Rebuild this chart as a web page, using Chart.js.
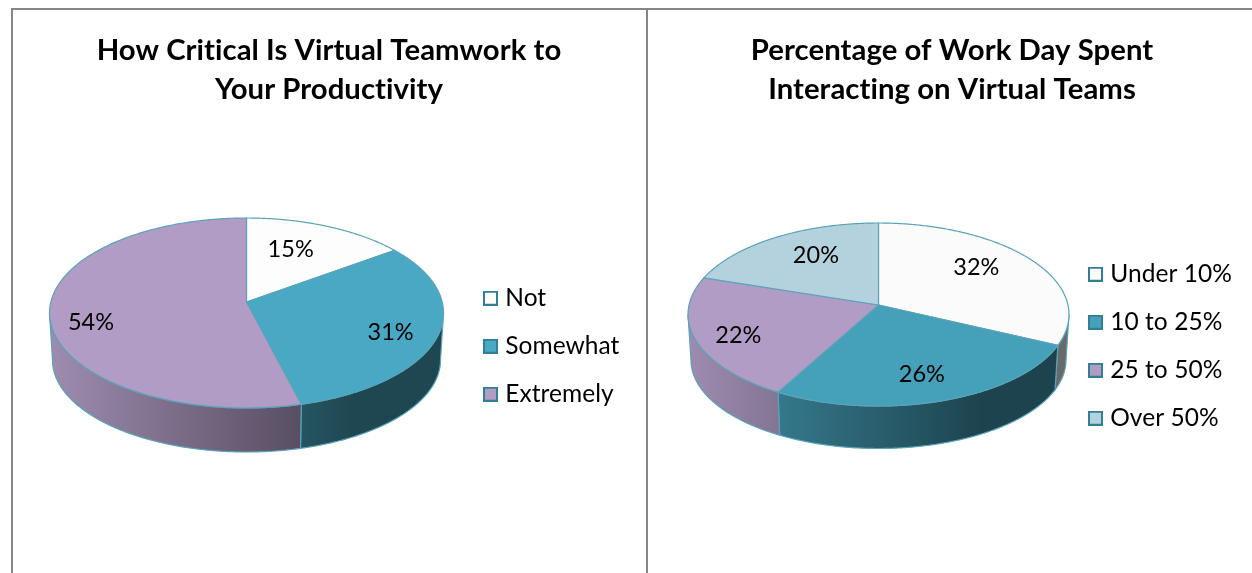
<!DOCTYPE html>
<html><head><meta charset="utf-8">
<style>
html,body{margin:0;padding:0;background:#fff;overflow:hidden}
#stage{position:relative;width:1252px;height:573px;overflow:hidden}
.rule{position:absolute;background:#868686}
.wrap{position:absolute;top:10px;height:563px}
</style>
<script src="https://cdn.jsdelivr.net/npm/chart.js@4"></script>
</head><body>
<div id="stage">
<div class="rule" style="left:11px;top:8px;width:1241px;height:2px"></div>
<div class="rule" style="left:11px;top:8px;width:2px;height:565px"></div>
<div class="rule" style="left:646px;top:8px;width:2px;height:565px"></div>
<div class="wrap" style="left:13px;width:632px"><canvas id="c1"></canvas></div>
<div class="wrap" style="left:652px;width:600px"><canvas id="c2"></canvas></div>
</div>
<script>
const FONT = "Lato, 'Noto Sans', sans-serif";

const title1 = ["How Critical Is Virtual Teamwork to", "Your Productivity"];
const categories1 = ["Not", "Somewhat", "Extremely"];
const values1 = [15, 31, 54];
const colors1 = ["#fdfdfd", "#49a9c4", "#b09cc4"];

const title2 = ["Percentage of Work Day Spent", "Interacting on Virtual Teams"];
const categories2 = ["Under 10%", "10 to 25%", "25 to 50%", "Over 50%"];
const values2 = [32, 26, 22, 20];
const colors2 = ["#fbfbfb", "#45a0b9", "#b09cc4", "#b3d2de"];

const EDGE = "#5aa3b8", BOX_EDGE = "#2f8097";
// wall shading: position across the pie -> brightness
const SHADE = [[0, .9], [.24, .75], [.64, .5], [.77, .42], [1, .42]];

function rgb(hex){ return [1,3,5].map(i => parseInt(hex.substr(i,2),16)); }
function boxImage(color){
  const s = document.createElement('canvas'); s.width = 15; s.height = 15;
  const c = s.getContext('2d');
  c.fillStyle = color; c.fillRect(0,0,15,15);
  c.strokeStyle = BOX_EDGE; c.lineWidth = 2; c.strokeRect(1,1,13,13);
  return s;
}

// Perspective view of a round disc: g holds the ellipse of the top face, the
// bottom face, and k the shift of the disc centre towards the far side.
function rim(g, a, r){
  const x = r*Math.cos(a), y = r*Math.sin(a), d = 1 - g.k*y;
  return [x*Math.sqrt(1-g.k*g.k)/d, (y-g.k)/d];
}
function topPt(g, p){ return [g.cx + g.rx*p[0], g.cy + g.ry*p[1]]; }
function botPt(g, p){ return [g.cx + g.rx2*p[0], g.cy2 + g.ry2*p[1]]; }

const pie3d = {
  id: 'pie3d',
  beforeDraw(chart){
    // a non-zero letter spacing keeps the "ti" pairs as separate letters, as in the reference
    chart.ctx.letterSpacing = '0.05px';
  },
  afterLayout(chart){
    const g = chart.options.plugins.pie3d, L = chart.legend;
    const h = L.height;
    L.left = g.legendX - L.options.labels.padding; L.top = g.legendY - L.options.labels.padding;
    L.right = L.left + L.width; L.bottom = L.top + h + 100;
  },
  beforeDatasetsDraw(chart){
    const g = chart.options.plugins.pie3d, ctx = chart.ctx, meta = chart.getDatasetMeta(0);
    const colors = chart.data.datasets[0].backgroundColor;
    meta.data.forEach((el, i) => {
      // side wall
      const pts = [];
      for (let a = el.startAngle; a <= el.endAngle + 1e-6; a += (el.endAngle-el.startAngle)/400){
        const p = rim(g, a, 1); if (p[1] >= 0) pts.push(p);
      }
      if (pts.length > 1){
        const grad = ctx.createLinearGradient(g.cx-g.rx, 0, g.cx+g.rx, 0), c = rgb(colors[i]);
        SHADE.forEach(([t,f]) => grad.addColorStop(t, `rgb(${c.map(v=>Math.round(v*f)).join(',')})`));
        ctx.beginPath();
        pts.forEach((p,n) => { const q = topPt(g,p); n ? ctx.lineTo(q[0],q[1]) : ctx.moveTo(q[0],q[1]); });
        pts.slice().reverse().forEach(p => { const q = botPt(g,p); ctx.lineTo(q[0],q[1]); });
        ctx.closePath();
        ctx.fillStyle = grad; ctx.fill();
        ctx.strokeStyle = EDGE; ctx.lineWidth = 1.2; ctx.stroke();
      }
      // top face of the slice
      el.draw = function(c){
        const apex = topPt(g, rim(g, 0, 0));
        c.save(); c.beginPath(); c.moveTo(apex[0], apex[1]);
        for (let n = 0; n <= 200; n++){
          const q = topPt(g, rim(g, el.startAngle + (el.endAngle-el.startAngle)*n/200, 1));
          c.lineTo(q[0], q[1]);
        }
        c.closePath();
        c.fillStyle = colors[i]; c.fill();
        c.strokeStyle = EDGE; c.lineWidth = 1.2; c.stroke();
        c.restore();
      };
    });
  },
  afterDatasetsDraw(chart){
    const g = chart.options.plugins.pie3d, ctx = chart.ctx, meta = chart.getDatasetMeta(0);
    ctx.save();
    ctx.font = `${g.labelSize}px ${FONT}`; ctx.fillStyle = '#000';
    ctx.textAlign = 'center'; ctx.textBaseline = 'middle';
    meta.data.forEach((el, i) => {
      const q = topPt(g, rim(g, (el.startAngle+el.endAngle)/2, .6));
      ctx.fillText(chart.data.datasets[0].data[i] + '%', q[0]+g.nudge[i][0], q[1]+g.nudge[i][1]);
    });
    ctx.restore();
  }
};

function make(id, title, cats, vals, cols, geo){
  new Chart(document.getElementById(id), {
    type: 'pie',
    data: { labels: cats, datasets: [{ data: vals, backgroundColor: cols, borderColor: EDGE, borderWidth: 1 }] },
    plugins: [pie3d],
    options: {
      responsive: true, maintainAspectRatio: false, animation: false,
      layout: { padding: 0 },
      events: [],
      plugins: {
        pie3d: geo,
        tooltip: { enabled: false },
        title: { display: true, text: title, color: '#000', padding: { top: 21, bottom: 0 },
                 font: { family: FONT, size: 29.3, weight: 'bold', lineHeight: 39/29.3 } },
        legend: { display: true, position: 'right', align: 'start',
          labels: { color: '#000', font: { family: FONT, size: 24.5 }, padding: 23.5,
            usePointStyle: true, pointStyleWidth: 5,
            generateLabels(chart){
              return Chart.overrides.pie.plugins.legend.labels.generateLabels(chart)
                .map((it,i) => Object.assign(it, { pointStyle: boxImage(cols[i]) }));
            } } }
      }
    }
  });
}

make('c1', title1, categories1, values1, colors1, {
  cx: 233.5, rx: 197, cy: 303, ry: 95, rx2: 194, cy2: 350, ry2: 92, k: .116,
  legendX: 475, legendY: 276, labelSize: 23.5,
  nudge: [[-6,-5],[31,11],[-38,13.5]]
});
make('c2', title2, categories2, values2, colors2, {
  cx: 226.5, rx: 190.5, cy: 304.5, ry: 91.5, rx2: 187.5, cy2: 350, ry2: 88.5, k: .104,
  legendX: 441, legendY: 252, labelSize: 23.5,
  nudge: [[5,-9],[6,15],[-32,9.5],[1,-8]]
});
</script>
</body></html>
